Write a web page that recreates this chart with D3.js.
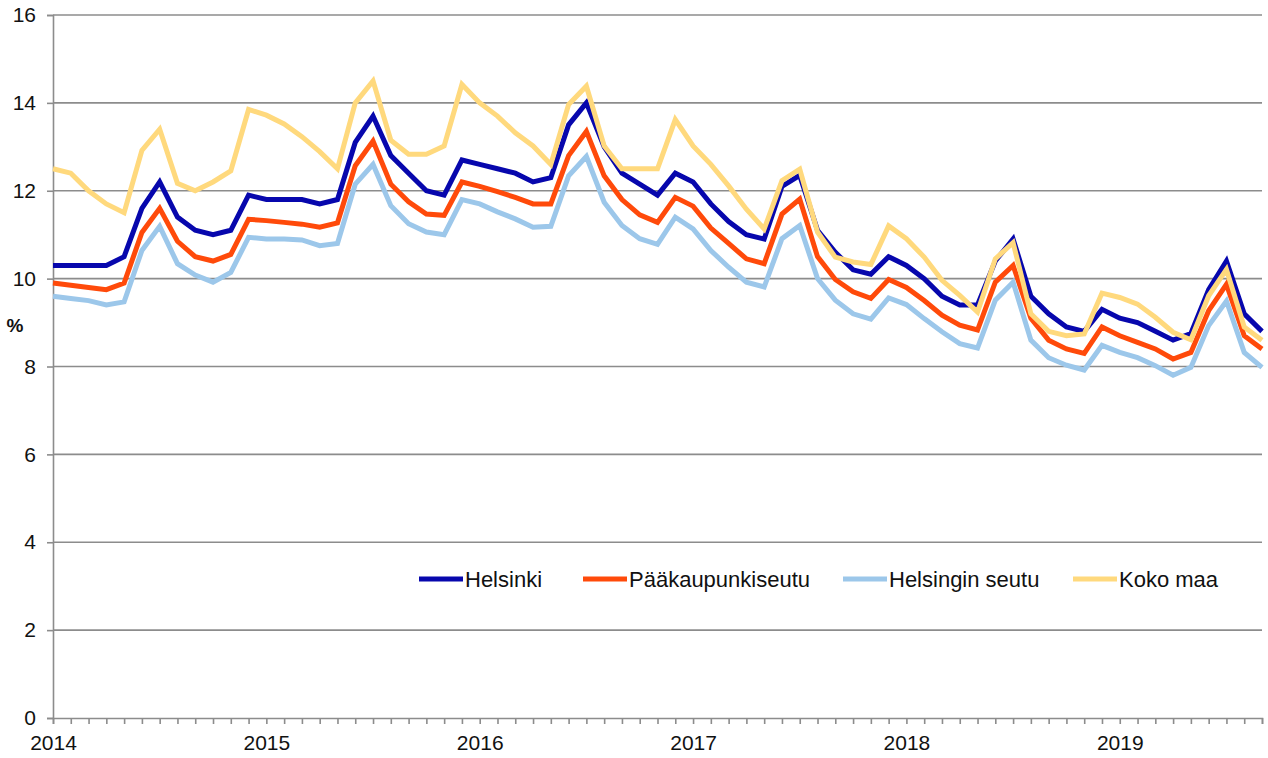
<!DOCTYPE html>
<html>
<head>
<meta charset="utf-8">
<script src="https://cdn.jsdelivr.net/npm/d3@7"></script>
<style>
  html, body { margin: 0; padding: 0; background: #fff; }
  svg { display: block; font-family: "Liberation Sans", Arial, sans-serif; }
</style>
</head>
<body>
<svg id="chart" width="1268" height="758"></svg>
<script>
// ---- Data (monthly, Jan 2014 – Sep 2019) ----
const startYear = 2014;
const monthCount = 69;
const yearLabels = ["2014", "2015", "2016", "2017", "2018", "2019"];
const yTicks = [0, 2, 4, 6, 8, 10, 12, 14, 16];
const seriesNames = ["Helsinki", "Pääkaupunkiseutu", "Helsingin seutu", "Koko maa"];

const helsinki = [
  10.3, 10.3, 10.3, 10.3, 10.5, 11.6, 12.2, 11.4, 11.1, 11.0, 11.1, 11.9,
  11.8, 11.8, 11.8, 11.7, 11.8, 13.1, 13.7, 12.8, 12.4, 12.0, 11.9, 12.7,
  12.6, 12.5, 12.4, 12.2, 12.3, 13.5, 14.0, 13.0, 12.4, 12.15, 11.9, 12.4,
  12.2, 11.7, 11.3, 11.0, 10.9, 12.1, 12.35, 11.1, 10.6, 10.2, 10.1, 10.5,
  10.3, 10.0, 9.6, 9.4, 9.4, 10.4, 10.9, 9.6, 9.2, 8.9, 8.8, 9.3,
  9.1, 9.0, 8.8, 8.6, 8.75, 9.75, 10.4, 9.2, 8.8
];
const paakaupunkiseutu = [
  9.9, 9.85, 9.8, 9.75, 9.9, 11.05, 11.6, 10.85, 10.5, 10.4, 10.55, 11.35,
  11.32, 11.28, 11.24, 11.17, 11.27, 12.57, 13.13, 12.15, 11.75, 11.47, 11.44, 12.2,
  12.1, 11.98, 11.85, 11.7, 11.7, 12.8, 13.35, 12.34, 11.8, 11.45, 11.28, 11.85,
  11.65, 11.15, 10.8, 10.45, 10.34, 11.47, 11.81, 10.5, 9.98, 9.7, 9.55, 9.98,
  9.8, 9.5, 9.17, 8.94, 8.83, 9.92, 10.3, 9.1, 8.6, 8.4, 8.3, 8.9,
  8.7, 8.55, 8.4, 8.17, 8.32, 9.27, 9.87, 8.7, 8.4
];
const helsinginSeutu = [
  9.6, 9.55, 9.5, 9.4, 9.47, 10.64, 11.19, 10.34, 10.08, 9.92, 10.14, 10.94,
  10.9, 10.9, 10.88, 10.75, 10.8, 12.15, 12.6, 11.66, 11.25, 11.06, 11.0, 11.8,
  11.7, 11.52, 11.36, 11.17, 11.19, 12.34, 12.78, 11.74, 11.21, 10.91, 10.78, 11.4,
  11.13, 10.64, 10.26, 9.92, 9.81, 10.91, 11.21, 10.0, 9.51, 9.2, 9.08, 9.56,
  9.41, 9.09, 8.79, 8.52, 8.42, 9.51, 9.92, 8.6, 8.2, 8.03, 7.92, 8.48,
  8.32, 8.2, 8.02, 7.8, 7.98, 8.93, 9.49, 8.32, 7.98
];
const kokoMaa = [
  12.5, 12.4, 12.0, 11.7, 11.5, 12.92, 13.4, 12.17, 12.0, 12.2, 12.45, 13.85,
  13.72, 13.52, 13.23, 12.89, 12.5, 14.0, 14.5, 13.15, 12.83, 12.83, 13.02, 14.42,
  14.0, 13.7, 13.32, 13.02, 12.6, 13.96, 14.38, 13.02, 12.5, 12.5, 12.5, 13.62,
  13.02, 12.6, 12.11, 11.58, 11.13, 12.23, 12.49, 11.06, 10.49, 10.38, 10.32, 11.2,
  10.91, 10.49, 9.96, 9.62, 9.24, 10.45, 10.82, 9.2, 8.8, 8.7, 8.74, 9.67,
  9.57, 9.42, 9.12, 8.78, 8.61, 9.61, 10.21, 8.9, 8.6
];
const seriesColors = ["#0707ad", "#ff4a0a", "#9cc7ea", "#ffd97d"];
const seriesValues = [helsinki, paakaupunkiseutu, helsinginSeutu, kokoMaa];

// ---- Layout ----
const svg = d3.select("#chart");
const margin = { left: 53, right: 1262, top: 15, bottom: 718 };
const gridColor = "#8c8c8c";

const x = d3.scaleLinear().domain([0, monthCount - 1]).range([margin.left, margin.right]);
const y = d3.scaleLinear().domain([0, 16]).range([margin.bottom, margin.top]);

// gridlines
svg.append("g")
  .selectAll("line")
  .data(yTicks.filter(d => d > 0))
  .join("line")
  .attr("x1", margin.left).attr("x2", margin.right)
  .attr("y1", d => y(d)).attr("y2", d => y(d))
  .attr("stroke", gridColor).attr("stroke-width", 1.6);

// y axis
const yAxis = d3.axisLeft(y).tickValues(yTicks).tickSize(6).tickPadding(11)
  .tickFormat(d3.format("d"));
const gy = svg.append("g").attr("transform", `translate(${margin.left},0)`).call(yAxis);
gy.select(".domain").attr("stroke", gridColor).attr("stroke-width", 1.6);
gy.selectAll(".tick line").attr("stroke", gridColor).attr("stroke-width", 1.6);
gy.selectAll(".tick text").attr("font-size", 21).attr("fill", "#111")
  .attr("font-family", "Liberation Sans, Arial, sans-serif");

// x axis (monthly ticks, year labels)
const monthIdx = d3.range(monthCount);
const xAxis = d3.axisBottom(x).tickValues(monthIdx).tickSize(6).tickPadding(11)
  .tickFormat(i => (i % 12 === 0 ? yearLabels[i / 12] : ""));
const gx = svg.append("g").attr("transform", `translate(0,${margin.bottom})`).call(xAxis);
gx.select(".domain").attr("stroke", gridColor).attr("stroke-width", 1.6);
gx.selectAll(".tick line").attr("stroke", gridColor).attr("stroke-width", 1.6);
gx.selectAll(".tick text").attr("font-size", 21).attr("fill", "#111")
  .attr("font-family", "Liberation Sans, Arial, sans-serif");

// "%" label
svg.append("text")
  .attr("x", 15).attr("y", 332)
  .attr("text-anchor", "middle")
  .attr("font-size", 19).attr("font-weight", "bold").attr("fill", "#111")
  .text("%");

// lines
const line = d3.line().x((d, i) => x(i)).y(d => y(d));
svg.append("g")
  .selectAll("path")
  .data(seriesValues)
  .join("path")
  .attr("d", d => line(d))
  .attr("fill", "none")
  .attr("stroke", (d, i) => seriesColors[i])
  .attr("stroke-width", 5)
  .attr("stroke-linejoin", "miter")
  .attr("stroke-miterlimit", 3);

// legend
const legendX = [419, 583, 843, 1073];
const legendY = 579;
const lg = svg.append("g");
seriesNames.forEach((name, i) => {
  lg.append("line")
    .attr("x1", legendX[i]).attr("x2", legendX[i] + 44)
    .attr("y1", legendY).attr("y2", legendY)
    .attr("stroke", seriesColors[i]).attr("stroke-width", 5);
  lg.append("text")
    .attr("x", legendX[i] + 46).attr("y", legendY + 8)
    .attr("font-size", 22).attr("fill", "#111")
    .text(name);
});
</script>
</body>
</html>
